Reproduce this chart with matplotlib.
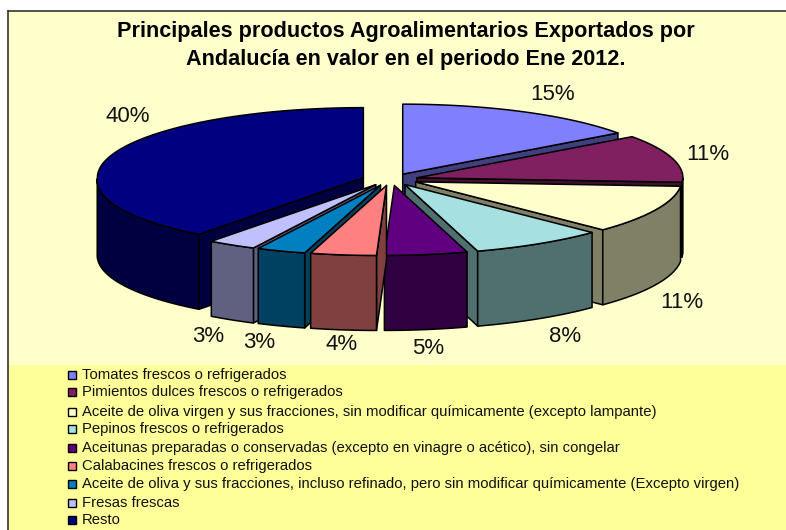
import numpy as np
import matplotlib
matplotlib.use("Agg")
import matplotlib.pyplot as plt
from matplotlib.patches import Polygon, Rectangle

title_lines = ["Principales productos Agroalimentarios Exportados por",
               "Andalucía en valor en el periodo Ene 2012."]
categories = ["Tomates frescos o refrigerados",
              "Pimientos dulces frescos o refrigerados",
              "Aceite de oliva virgen y sus fracciones, sin modificar químicamente (excepto lampante)",
              "Pepinos frescos o refrigerados",
              "Aceitunas preparadas o conservadas (excepto en vinagre o acético), sin congelar",
              "Calabacines frescos o refrigerados",
              "Aceite de oliva y sus fracciones, incluso refinado, pero sin modificar químicamente (Excepto virgen)",
              "Fresas frescas",
              "Resto"]
values = [15, 11, 11, 8, 5, 4, 3, 3, 40]
top_colors = ["#8080FF", "#802060", "#FFFFCC", "#A6E0E0", "#600080", "#FF8080", "#0080C0", "#C0C0FF", "#000080"]
side_colors = ["#404080", "#401030", "#808066", "#507070", "#300040", "#804040", "#004060", "#606080", "#000040"]
label_pos = [(553, 94), (708, 155), (682, 302), (565, 336), (428, 348), (342, 344), (259, 343), (208, 336), (128, 116)]
legend_y = [375, 392, 412, 429, 448, 466, 484, 503, 520]

CX, CY = 390, 179.5
RX, RY = 266, 70
EX, EY = 28, 6
DEPTH = 75
SKEW = 10

fig = plt.figure(figsize=(7.86, 5.30), dpi=100, facecolor="white")
ax = fig.add_axes([0, 0, 1, 1])
ax.set_xlim(0, 786); ax.set_ylim(530, 0); ax.axis("off")
plt.rcParams["font.family"] = ["Liberation Sans", "DejaVu Sans"]

ax.add_patch(Rectangle((8, 11), 778, 354, fc="#FFFFCC", ec="none", zorder=0))
ax.add_patch(Rectangle((8, 365), 778, 165, fc="#FFFF99", ec="none", zorder=0))
ax.plot([8, 8], [11, 530], color="#333333", lw=1.2, zorder=1)
ax.plot([8, 786], [11, 11], color="#333333", lw=1.2, zorder=1)

fracs = np.array(values) / sum(values)
edges = np.concatenate([[0], np.cumsum(fracs)]) * 360
mids = (edges[:-1] + edges[1:]) / 2


def rim(apex, deg):
    t = np.radians(np.asarray(deg, dtype=float))
    x = apex[0] + RX * np.sin(t) - SKEW * np.maximum(0, -np.cos(t))
    y = apex[1] - RY * np.cos(t)
    return np.column_stack([x, y])


def cross(a, b):
    return a[0] * b[1] - a[1] * b[0]


order = np.argsort(-np.cos(np.radians(mids)) + 1e-6 * np.arange(len(mids)))
z = 2
down = np.array([0, DEPTH])
for i in order:
    a0, a1, m = edges[i], edges[i + 1], np.radians(mids[i])
    apex = np.array([CX + EX * np.sin(m), CY - EY * np.cos(m)])
    arc = rim(apex, np.linspace(a0, a1, 80))
    inner = rim(apex, [mids[i]])[0] - apex
    # radial walls that face the viewer
    for p in (arc[0], arc[-1]):
        e = p - apex
        if cross(e, down) * cross(e, inner) < 0:
            ax.add_patch(Polygon([apex, p, p + down, apex + down], closed=True, fc=side_colors[i],
                                 ec="black", lw=1.1, joinstyle="round", zorder=z))
            z += 1
    # outer rim, front half only
    ang = np.linspace(a0, a1, 80)
    vis = np.cos(np.radians(ang)) <= 0.0
    if vis.sum() > 1:
        pts = arc[vis]
        ax.add_patch(Polygon(np.vstack([pts, pts[::-1] + down]), closed=True, fc=side_colors[i],
                             ec="black", lw=1.1, joinstyle="round", zorder=z))
        z += 1
    ax.add_patch(Polygon(np.vstack([[apex], arc]), closed=True, fc=top_colors[i],
                         ec="black", lw=1.1, joinstyle="round", zorder=z))
    z += 1

for line, y in zip(title_lines, (32, 60)):
    ax.text(405.5, y, line, ha="center", va="center", fontsize=15.55, fontweight="bold", color="black", zorder=100)
for v, (x, y) in zip(values, label_pos):
    ax.text(x, y, f"{v}%", ha="center", va="center", fontsize=16, color="#111111", zorder=100)
for name, color, y in zip(categories, top_colors, legend_y):
    ax.add_patch(Rectangle((67.5, y - 4.5), 8.5, 8.5, fc=color, ec="black", lw=1, zorder=100))
    ax.text(82, y, name, ha="left", va="center", fontsize=10.7, color="#111111", zorder=100)

fig.savefig("out.png", dpi=100, facecolor="white")
